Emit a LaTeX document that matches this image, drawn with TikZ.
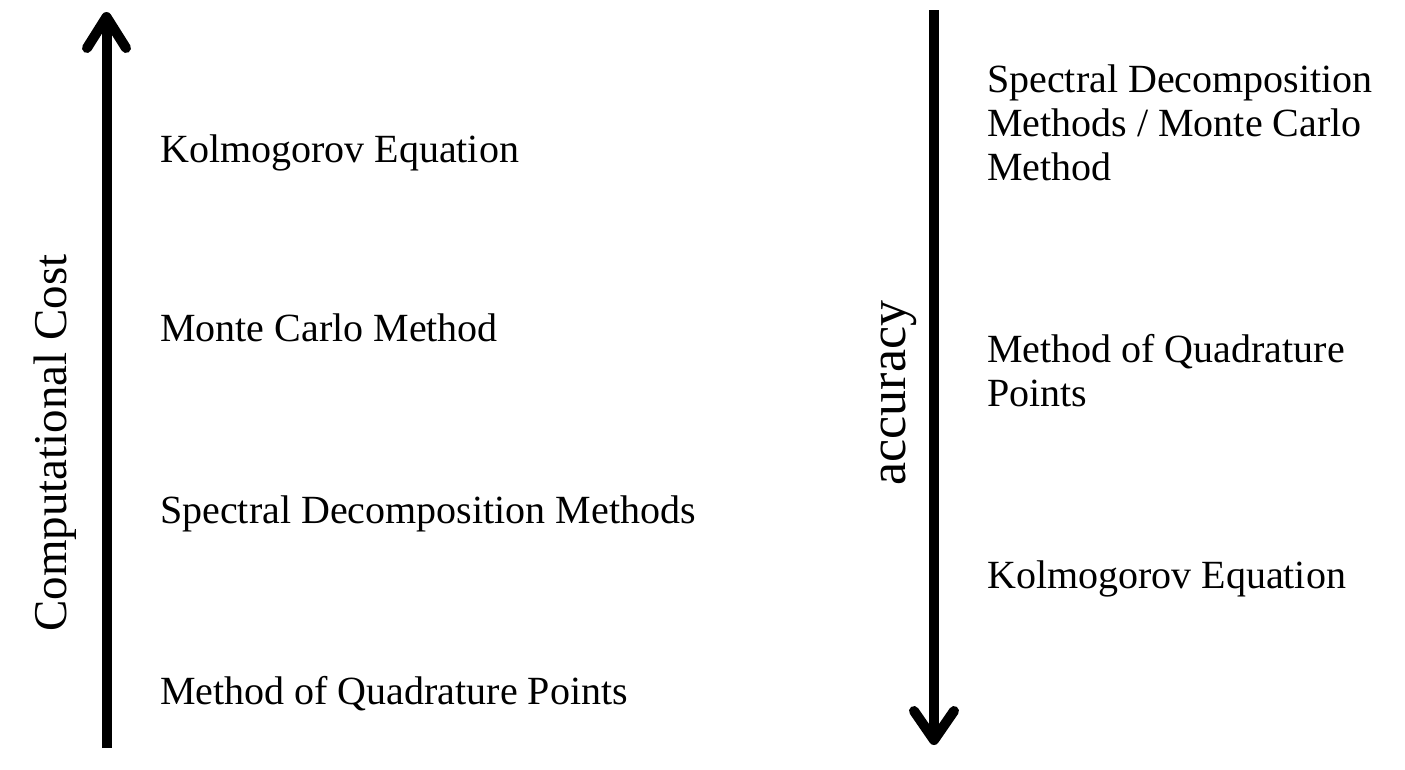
\documentclass[tikz,border=0pt]{standalone}
\usepackage{fontspec}
\setmainfont{Liberation Serif}
\begin{document}
\begin{tikzpicture}[x=1pt,y=-1pt,
  axisline/.style={line width=10pt,black},
  headline/.style={line width=10pt,black,line cap=round,line join=round},
  item/.style={anchor=base west,inner sep=0pt,font=\fontsize{40}{44}\selectfont,align=left},
  axislabel/.style={anchor=base,rotate=90,inner sep=0pt}]
\useasboundingbox[fill=white] (0,0) rectangle (1405,769);
% left arrow
\coordinate (ltop) at (106.5,17);
\coordinate (lbot) at (106.5,748);
\coordinate (lha) at (87,48);
\coordinate (lhb) at (126,48);
\draw[axisline] (lbot) -- (ltop);
\draw[headline] (lha) -- (ltop) -- (lhb);
% right arrow
\coordinate (rtop) at (934,10);
\coordinate (rbot) at (934,740);
\coordinate (rha) at (914,711);
\coordinate (rhb) at (954,711);
\draw[axisline] (rtop) -- (rbot);
\draw[headline] (rha) -- (rbot) -- (rhb);
% axis labels
\node[axislabel,font=\fontsize{47}{50}\selectfont] (cost) at (66,443) {Computational Cost};
\node[axislabel,font=\fontsize{52}{56}\selectfont] (acc) at (905,393) {accuracy};
% left items
\node[item] (lk) at (160,162) {Kolmogorov Equation};
\node[item] (lm) at (160,341) {Monte Carlo Method};
\node[item] (ls) at (160,523) {Spectral Decomposition Methods};
\node[item] (lq) at (160,704) {Method of Quadrature Points};
% right items (base = last line)
\node[item] (rs) at (987,180) {Spectral Decomposition\\Methods / Monte Carlo\\Method};
\node[item] (rq) at (987,406) {Method of Quadrature\\Points};
\node[item] (rk) at (987,588) {Kolmogorov Equation};
\end{tikzpicture}
\end{document}
